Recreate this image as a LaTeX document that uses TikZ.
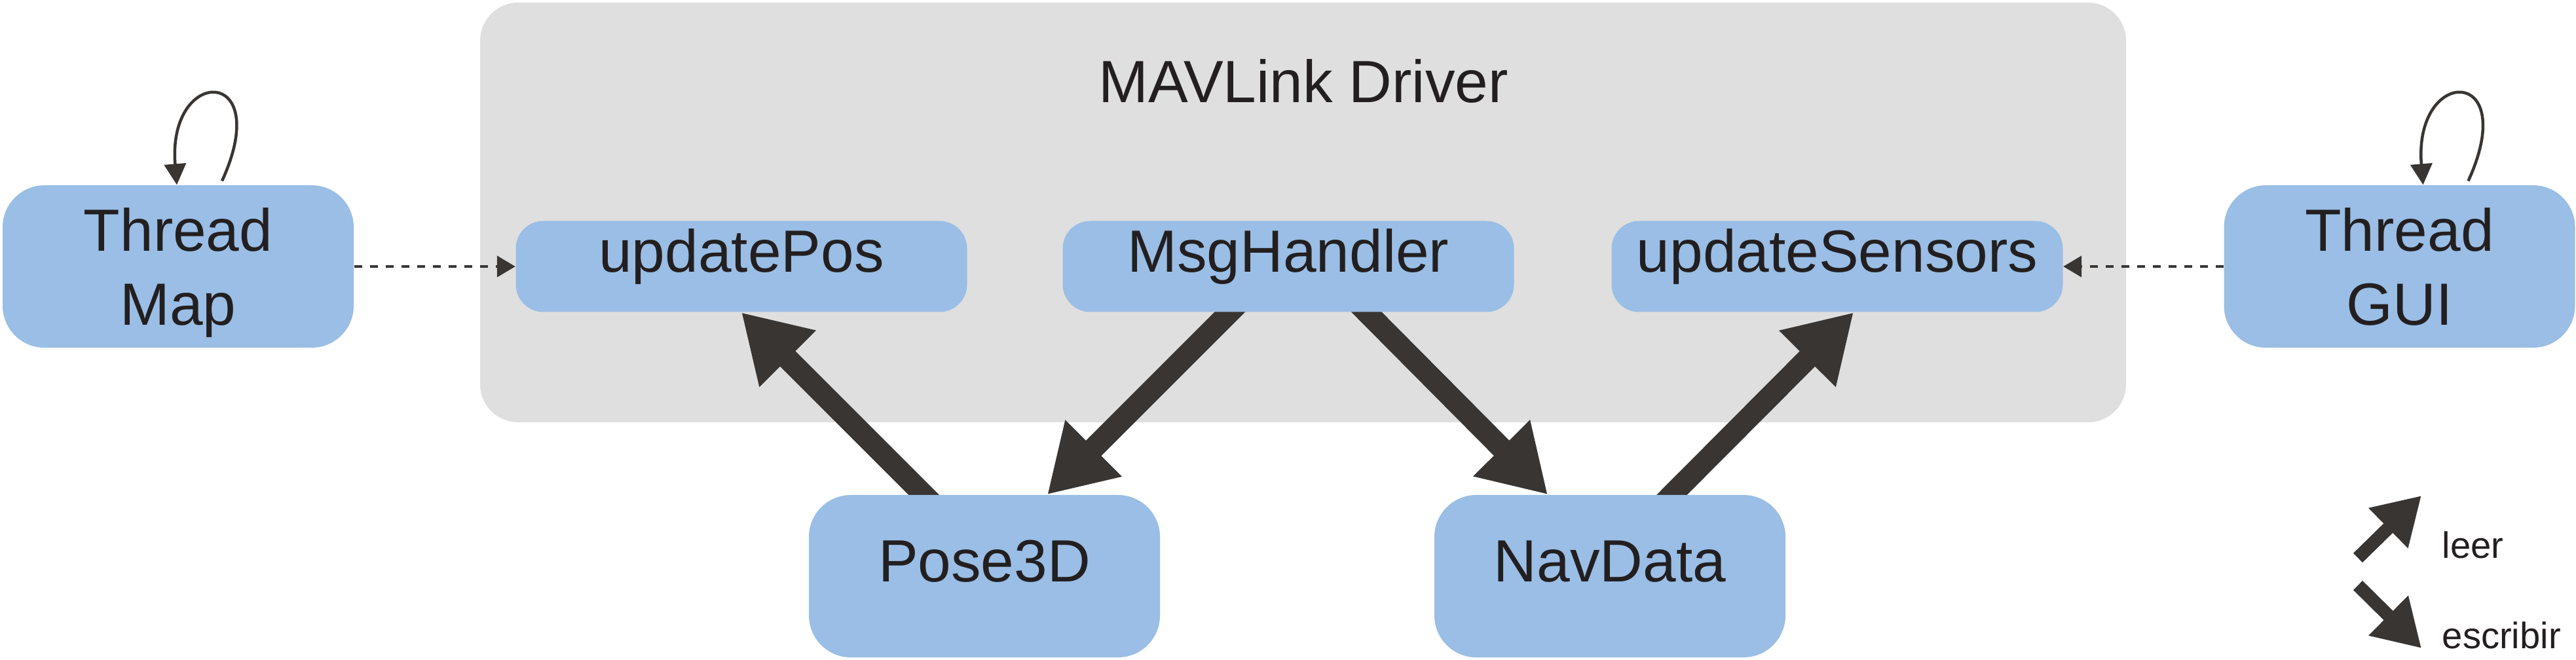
\documentclass[tikz,border=0pt]{standalone}
\usepackage{fontspec}
\setmainfont{Liberation Sans}
\usetikzlibrary{arrows.meta}

\definecolor{boxblue}{RGB}{154,190,229}
\definecolor{drivergray}{RGB}{223,223,223}
\definecolor{arrowgray}{RGB}{56,53,51}
\definecolor{textblack}{RGB}{35,31,32}

\pgfdeclarelayer{bg}
\pgfdeclarelayer{arr}
\pgfsetlayers{bg,arr,main}

\tikzset{
	bigtext/.style={font=\fontsize{25.9}{31.9}\selectfont, text=textblack},
	funcbox/.style={bigtext, rectangle, rounded corners=0.42cm, fill=boxblue, minimum width=6.89cm, minimum height=1.39cm, inner sep=0pt, text height=0.72em, text depth=0.21em},
	databox/.style={bigtext, rectangle, rounded corners=0.64cm, fill=boxblue, minimum width=5.36cm, minimum height=2.48cm, inner sep=0pt, text height=0.72em, text depth=0.21em},
	threadbox/.style={bigtext, rectangle, rounded corners=0.64cm, fill=boxblue, minimum width=5.36cm, minimum height=2.48cm, inner sep=0pt, align=center},
	rw/.style={draw=arrowgray, line width=0.33cm, shorten <=-0.2cm, -{Triangle[length=1cm,width=1.15cm]}},
	rwsmall/.style={draw=arrowgray, line width=0.2cm, -{Triangle[length=0.71cm,width=0.81cm]}},
	call/.style={draw=arrowgray, line width=0.045cm, dash pattern=on 0.12cm off 0.12cm, -{Triangle[length=0.28cm,width=0.32cm]}},
	selfloop/.style={draw=arrowgray, line width=0.045cm, -{Triangle[length=0.32cm,width=0.33cm]}},
	legendtext/.style={font=\fontsize{16}{19}\selectfont, text=textblack, inner sep=0pt, anchor=base west}
}

\begin{document}
\begin{tikzpicture}
	\useasboundingbox (0,0) rectangle (39.33,10.07);

	% driver
	\begin{pgfonlayer}{bg}
		\node[rectangle, rounded corners=0.58cm, fill=drivergray, minimum width=25.13cm, minimum height=6.41cm, inner sep=0pt] (driver) at (19.895,6.825) {};
	\end{pgfonlayer}
	\node[bigtext, inner sep=0pt, anchor=base] (drvtitle) at (19.90,8.50) {MAVLink Driver};

	\node[funcbox] (updpos) at (11.32,6.00) {updatePos};
	\node[funcbox] (msghdl) at (19.67,6.00) {MsgHandler};
	\node[funcbox] (updsens) at (28.05,6.00) {updateSensors};

	% threads
	\node[threadbox] (tmap) at (2.72,6.00) {Thread\\\smash{Map}};
	\node[threadbox] (tgui) at (36.635,6.00) {Thread\\\smash{GUI}};

	% data
	\node[databox] (pose) at (15.03,1.27) {Pose3D};
	\node[databox] (nav) at (24.58,1.27) {NavData};

	\draw[call] (tmap.east) -- (updpos.west);
	\draw[call] (tgui.west) -- (updsens.east);

	\draw[selfloop] ([xshift=0.67cm,yshift=0.06cm]tmap.north) .. controls +(0.81,1.77) and +(-0.15,1.82) .. ([xshift=-0.02cm]tmap.north);
	\draw[selfloop] ([xshift=1.05cm,yshift=0.06cm]tgui.north) .. controls +(0.81,1.77) and +(-0.15,1.82) .. ([xshift=0.36cm]tgui.north);

	\begin{pgfonlayer}{arr}
		\draw[rw] ([xshift=-0.93cm]pose.north) -- (updpos.south);
		\draw[rw] ([xshift=-0.90cm]msghdl.south) -- ([xshift=0.96cm]pose.north);
		\draw[rw] ([xshift=1.20cm]msghdl.south) -- ([xshift=-0.95cm]nav.north);
		\draw[rw] ([xshift=0.95cm]nav.north) -- ([xshift=0.25cm]updsens.south);
	\end{pgfonlayer}

	% legend
	\coordinate (leer0) at (36.00,1.55);
	\coordinate (leer1) at (36.97,2.50);
	\coordinate (escr0) at (36.00,1.13);
	\coordinate (escr1) at (36.97,0.17);
	\draw[rwsmall] (leer0) -- (leer1);
	\draw[rwsmall] (escr0) -- (escr1);
	\node[legendtext] (leertxt) at (37.28,1.54) {leer};
	\node[legendtext] (escrtxt) at (37.28,0.17) {escribir};
\end{tikzpicture}
\end{document}
